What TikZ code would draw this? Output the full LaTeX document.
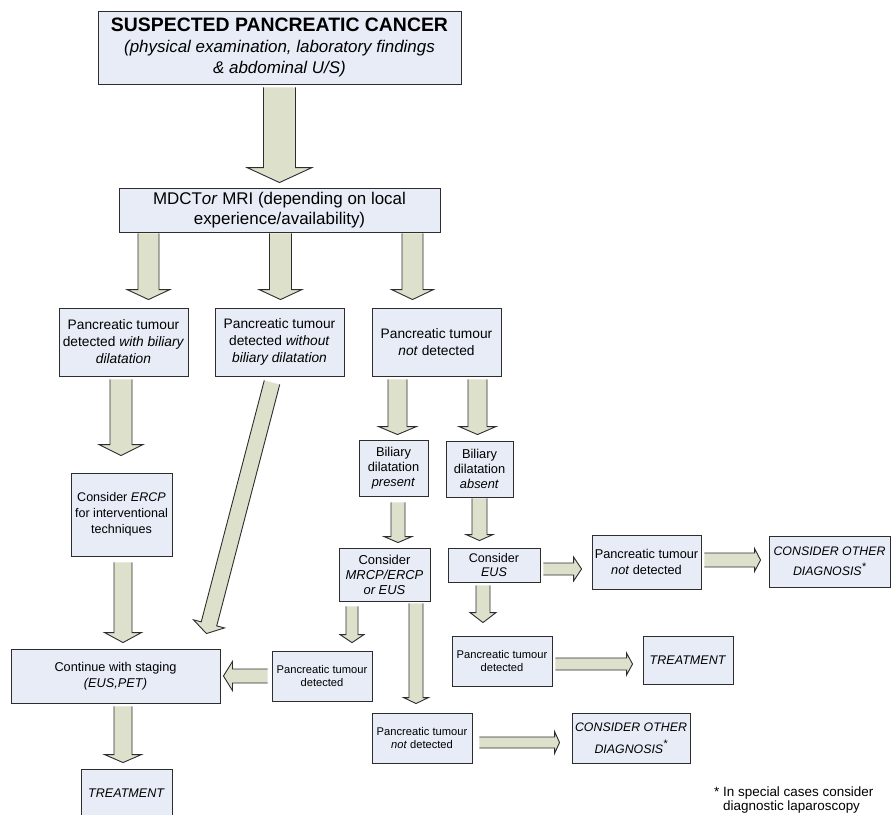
\documentclass[tikz,border=0pt]{standalone}
\usepackage{fontspec}
\setmainfont{Liberation Sans}
\usetikzlibrary{calc}
\definecolor{boxBlue}{RGB}{231,236,246}
\definecolor{arrowOlive}{RGB}{221,225,203}
\definecolor{lineGrey}{RGB}{45,45,45}
\tikzstyle{recNode} = [rectangle, align=center, inner sep=1pt, draw=lineGrey, line width=0.9bp, fill=boxBlue, text=black]
\tikzstyle{fatFill} = [fill=arrowOlive]
\tikzstyle{fatLine} = [draw=lineGrey, line width=0.9bp, line join=miter]
\newcommand{\starMark}{\raisebox{0.45em}{\fontsize{11}{11}\selectfont\itshape *}}
% block arrow: from anchor, offset, to anchor, offset, shaft half width, head half width, head length
\newcommand{\fatArrow}[7]{%
  \coordinate (fa-s) at ($(#1)+(#2)$);
  \coordinate (fa-t) at ($(#3)+(#4)$);
  \coordinate (fa-b) at ($(fa-t)!#7bp!(fa-s)$);
  \fill[fatFill] ($(fa-s)!#5bp!90:(fa-t)$) -- ($(fa-b)!#5bp!90:(fa-t)$) -- ($(fa-b)!#6bp!90:(fa-t)$) -- (fa-t)
    -- ($(fa-b)!#6bp!-90:(fa-t)$) -- ($(fa-b)!#5bp!-90:(fa-t)$) -- ($(fa-s)!#5bp!-90:(fa-t)$) -- cycle;
  \draw[fatLine] ($(fa-s)!#5bp!90:(fa-t)$) -- ($(fa-b)!#5bp!90:(fa-t)$) -- ($(fa-b)!#6bp!90:(fa-t)$) -- (fa-t)
    -- ($(fa-b)!#6bp!-90:(fa-t)$) -- ($(fa-b)!#5bp!-90:(fa-t)$) -- ($(fa-s)!#5bp!-90:(fa-t)$);
}

\begin{document}
\begin{tikzpicture}[x=1bp, y=-1bp]
        \fill[white] (0,0) rectangle (891,815);
        \useasboundingbox (0,0) rectangle (891,815);

        \node (suspect) [recNode, minimum width=363bp, minimum height=73bp, font=\fontsize{17}{21.5}\selectfont] at (279.5,47.5)
            {{\fontsize{19.5}{21.5}\selectfont\bfseries SUSPECTED PANCREATIC CANCER}\\ \textit{(physical examination, laboratory findings}\\ \textit{\& abdominal U/S)}};
        \node (ctscan) [recNode, minimum width=321bp, minimum height=44bp, font=\fontsize{17}{20}\selectfont] at (279.5,210)
            {MDCT\textit{or} MRI (depending on local\\ experience/availability)};

        \node (tumwith) [recNode, minimum width=129bp, minimum height=68bp, font=\fontsize{13.8}{17}\selectfont] at (123.5,342)
            {Pancreatic tumour\\ detected \textit{with biliary}\\ \textit{dilatation}};
        \node (tumwithout) [recNode, minimum width=129bp, minimum height=68bp, font=\fontsize{13.8}{17}\selectfont] at (279.5,342)
            {Pancreatic tumour\\ detected \textit{without}\\ \textit{biliary dilatation}};
        \node (notdet) [recNode, minimum width=129bp, minimum height=68bp, font=\fontsize{13.8}{17}\selectfont] at (436.5,342)
            {Pancreatic tumour\\ \textit{not} detected};

        \node (present) [recNode, minimum width=69bp, minimum height=56bp, font=\fontsize{12.9}{15}\selectfont] at (393.5,468)
            {Biliary\\ dilatation\\ \textit{present}};
        \node (absent) [recNode, minimum width=67bp, minimum height=56bp, font=\fontsize{12.9}{15}\selectfont] at (479.5,469)
            {Biliary\\ dilatation\\ \textit{absent}};
        \node (ercp) [recNode, minimum width=101bp, minimum height=83bp, font=\fontsize{12.6}{16}\selectfont] at (121.5,514.5)
            {Consider \textit{ERCP}\\ for interventional\\ techniques};
        \node (mrcp) [recNode, minimum width=91bp, minimum height=53bp, font=\fontsize{13}{15}\selectfont] at (384.5,574.5)
            {Consider\\ \textit{MRCP/ERCP}\\ \textit{or EUS}};
        \node (eus) [recNode, minimum width=92bp, minimum height=34bp, font=\fontsize{12.6}{15}\selectfont] at (494,565)
            {Consider\\ \textit{EUS}};
        \node (notdetR) [recNode, minimum width=109bp, minimum height=54bp, font=\fontsize{12.8}{16}\selectfont] at (646.5,562)
            {Pancreatic tumour\\ \textit{not} detected};
        \node (consider1) [recNode, minimum width=121bp, minimum height=51bp, font=\fontsize{12.4}{20}\selectfont] at (829.5,561.5)
            {\textit{CONSIDER OTHER}\\ \textit{DIAGNOSIS}\starMark};

        \node (staging) [recNode, minimum width=209bp, minimum height=54bp, font=\fontsize{12.8}{16}\selectfont] at (115.5,676)
            {Continue with staging\\ \textit{(EUS,PET)}};
        \node (detL) [recNode, minimum width=100bp, minimum height=50bp, font=\fontsize{11.2}{13}\selectfont] at (322,676)
            {Pancreatic tumour\\ detected};
        \node (detM) [recNode, minimum width=100bp, minimum height=50bp, font=\fontsize{11.2}{13}\selectfont] at (502,661)
            {Pancreatic tumour\\ detected};
        \node (treatM) [recNode, minimum width=90bp, minimum height=48bp, font=\fontsize{12.6}{15}\selectfont] at (688,660)
            {\textit{TREATMENT}};
        \node (notdetB) [recNode, minimum width=100bp, minimum height=50bp, font=\fontsize{11.2}{13}\selectfont] at (422,738)
            {Pancreatic tumour\\ \textit{not} detected};
        \node (consider2) [recNode, minimum width=118bp, minimum height=50bp, font=\fontsize{12.4}{22}\selectfont] at (631,738)
            {\textit{CONSIDER OTHER}\\ \textit{DIAGNOSIS}\starMark};
        \node (treatB) [recNode, minimum width=91bp, minimum height=48bp, font=\fontsize{12.6}{15}\selectfont] at (126.5,793)
            {\textit{TREATMENT}};

        \node (note) [anchor=west, inner sep=0pt, align=left, font=\fontsize{13.5}{14.5}\selectfont] at (714,800)
            {* In special cases consider\\ \hphantom{*\ }diagnostic laparoscopy};

        % arrows
        \fatArrow{suspect.south}{0,3}{ctscan.north}{0,-5}{16}{32.5}{15}
        \fatArrow{ctscan.south}{-131,1}{tumwith.north}{25,-8}{10.5}{21.5}{10}
        \fatArrow{ctscan.south}{1,1}{tumwithout.north}{1,-8}{11}{21.5}{10}
        \fatArrow{ctscan.south}{133,1}{notdet.north}{-24,-8}{10.5}{21}{10}
        \fatArrow{tumwith.south}{-2.5,3}{ercp.north}{-0.5,-17}{11}{22}{11}
        \fatArrow{tumwithout.south}{-7.5,6}{staging.north east}{-14,-15}{8}{16}{10}
        \fatArrow{ercp.south}{1.5,6}{staging.north}{7.5,-6}{9}{18.5}{10}
        \fatArrow{staging.south}{7.5,3}{treatB.north}{-3.5,-6}{9}{18.5}{8}
        \fatArrow{notdet.south}{-39,3}{present.north}{4,-5}{9.5}{19}{8}
        \fatArrow{notdet.south}{41,3}{absent.north}{-2,-6}{9.5}{18.5}{8}
        \fatArrow{present.south}{4.5,6}{mrcp.north}{13.5,-5}{7}{14}{6}
        \fatArrow{absent.south}{0,1}{eus.north}{-14.5,-7}{7.5}{13.5}{6}
        \fatArrow{mrcp.south}{-32.5,5}{detL.north}{30,-8}{6}{12}{8}
        \fatArrow{mrcp.south}{31.5,2}{notdetB.north}{-6,-9}{7}{12.5}{6}
        \fatArrow{detL.west}{-4,0}{staging.east}{3,0}{7}{14.5}{9}
        \fatArrow{eus.east}{3,4}{notdetR.west}{-10,7}{6}{12}{8}
        \fatArrow{notdetR.east}{3,-2}{consider1.west}{-8,-1.5}{7}{11.5}{6}
        \fatArrow{eus.south}{-11,3}{detM.north}{-19,-13}{7}{13}{10}
        \fatArrow{detM.east}{3,3}{treatM.west}{-10,4}{6}{11}{6}
        \fatArrow{notdetB.east}{7,4.5}{consider2.west}{-12,4.5}{5.5}{11}{5}
\end{tikzpicture}
\end{document}
